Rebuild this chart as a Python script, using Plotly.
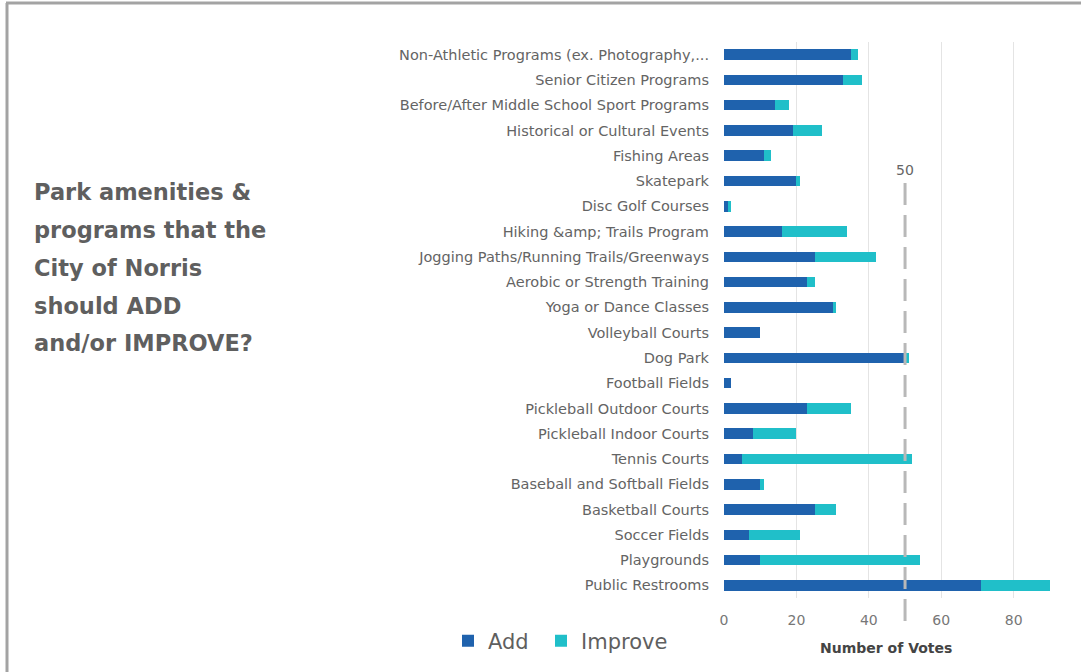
import plotly.graph_objects as go

categories = [
    "Non-Athletic Programs (ex. Photography,...",
    "Senior Citizen Programs",
    "Before/After Middle School Sport Programs",
    "Historical or Cultural Events",
    "Fishing Areas",
    "Skatepark",
    "Disc Golf Courses",
    "Hiking &amp; Trails Program",
    "Jogging Paths/Running Trails/Greenways",
    "Aerobic or Strength Training",
    "Yoga or Dance Classes",
    "Volleyball Courts",
    "Dog Park",
    "Football Fields",
    "Pickleball Outdoor Courts",
    "Pickleball Indoor Courts",
    "Tennis Courts",
    "Baseball and Softball Fields",
    "Basketball Courts",
    "Soccer Fields",
    "Playgrounds",
    "Public Restrooms",
]
add_votes = [35, 33, 14, 19, 11, 20, 1, 16, 25, 23, 30, 10, 50, 2, 23, 8, 5, 10, 25, 7, 10, 71]
improve_votes = [2, 5, 4, 8, 2, 1, 1, 18, 17, 2, 1, 0, 1, 0, 12, 12, 47, 1, 6, 14, 44, 19]
x_ticks = [0, 20, 40, 60, 80]
title_lines = ["Park amenities &", "programs that the", "City of Norris", "should ADD", "and/or IMPROVE?"]
threshold = 50

ADD_C = "#1f62ad"
IMP_C = "#20bfc9"
TXT = "#5f5f5f"
FONT = "DejaVu Sans"

# plot area in pixels
L, R, T, B = 724, 1068, 42, 598
PW, PH = R - L, B - T


def px(x):
    return (x - L) / PW


def py(y):
    return (B - y) / PH


fig = go.Figure()
fig.add_trace(go.Bar(y=categories, x=add_votes, name="Add", orientation="h", legend="legend",
                     marker=dict(color=ADD_C, line=dict(width=0))))
fig.add_trace(go.Bar(y=categories, x=improve_votes, name="Improve", orientation="h", legend="legend2",
                     marker=dict(color=IMP_C, line=dict(width=0))))

ticktext = [c.replace("&", "&amp;") for c in categories]

legend_style = dict(orientation="h", xanchor="left", yanchor="middle",
                    font=dict(size=21, color=TXT, family=FONT), itemwidth=30,
                    bgcolor="rgba(0,0,0,0)")

fig.update_layout(
    width=1081, height=672,
    margin=dict(l=L, r=1081 - R, t=T, b=672 - B, autoexpand=False),
    paper_bgcolor="white", plot_bgcolor="white",
    barmode="stack", bargap=0.58,
    font=dict(family=FONT, color=TXT),
    showlegend=True,
    legend=dict(x=px(448), y=py(641), **legend_style),
    legend2=dict(x=px(541), y=py(641), **legend_style),
    xaxis=dict(range=[0, 95], tickvals=x_ticks, showgrid=True, gridcolor="#e4e4e4",
               gridwidth=1, zeroline=False, showline=False, ticks="",
               tickfont=dict(size=14, color="#777777", family=FONT), ticklabelstandoff=12),
    yaxis=dict(autorange="reversed", tickmode="array", tickvals=categories, ticktext=ticktext,
               showgrid=False, zeroline=False, showline=False, ticks="",
               tickfont=dict(size=14.5, color="#646464", family=FONT), ticklabelstandoff=14),
)

# frame lines (top and left)
fig.add_shape(type="line", xref="paper", yref="paper", x0=px(6), x1=px(1090),
              y0=py(3), y1=py(3), line=dict(color="#a3a3a3", width=3))
fig.add_shape(type="line", xref="paper", yref="paper", x0=px(7), x1=px(7),
              y0=py(3), y1=py(680), line=dict(color="#a3a3a3", width=3))

# threshold dashed line
fig.add_shape(type="line", xref="x", yref="paper", x0=threshold, x1=threshold,
              y0=py(183), y1=py(626),
              line=dict(color="#b8b8b8", width=3, dash="22px,10px"))
fig.add_annotation(x=threshold, xref="x", y=py(170), yref="paper", text=str(threshold),
                   xanchor="center", yanchor="middle",
                   showarrow=False, font=dict(size=14, color="#666666", family=FONT))

# axis title
fig.add_annotation(x=px(886), xref="paper", y=py(648), yref="paper",
                   xanchor="center", yanchor="middle",
                   text="<b>Number of Votes</b>", showarrow=False,
                   font=dict(size=14, color="#444444", family=FONT))

# left title
ys = [192, 230, 268, 306, 343]
for line, yy in zip(title_lines, ys):
    fig.add_annotation(x=px(32), xref="paper", y=py(yy), yref="paper",
                       xanchor="left", yanchor="middle", text="<b>" + line.replace("&", "&amp;") + "</b>",
                       showarrow=False, font=dict(size=22.5, color=TXT, family=FONT))

fig.write_html("out.html", config={"displayModeBar": False},
               post_script="document.body.style.margin='0px';")
